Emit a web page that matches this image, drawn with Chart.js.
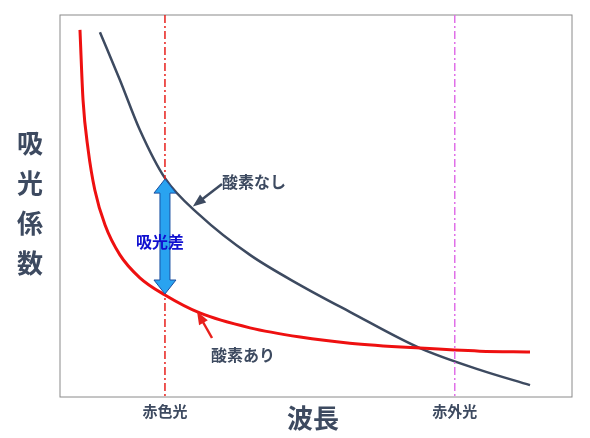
<!DOCTYPE html>
<html><head><meta charset="utf-8">
<script src="https://cdn.jsdelivr.net/npm/chart.js@4"></script>
<style>html,body{margin:0;padding:0;background:#fff}#w{width:590px;height:438px}</style>
</head><body><div id="w"><canvas id="c"></canvas></div>
<script>
const redX=[3.9,4.5,5.5,6.8,8.8,11.7,15.6,20.5,27.3,37.1,46.9,56.6,70.3,82,91.8];
const redY=[96.1,77.7,64.7,54.2,45,37.2,31.2,26.7,22,18.1,15.7,14.1,12.8,12,11.8];
const blueX=[7.8,11.7,15.6,20.5,27.3,37.1,46.9,56.6,70.3,82,91.8];
const blueY=[95.5,83,69.9,57.3,47.6,37.2,29.3,22.3,12.8,7.1,3.1];
const tickPos=[20.5,77.1];
const tickLabels=['赤色光','赤外光'];
const F='"Noto Sans CJK JP"';
const deco={id:'deco',afterDatasetsDraw(ch){
 const {ctx,chartArea:a,scales:{x,y}}=ch;
 ctx.save();
 ctx.strokeStyle='#8a8a8a';ctx.lineWidth=1;ctx.strokeRect(a.left,a.top,a.right-a.left,a.bottom-a.top);
 // vertical lines
 ctx.setLineDash([8,3,2,3]);ctx.lineWidth=1.5;
 ctx.strokeStyle='#e8201c';let px=x.getPixelForValue(tickPos[0]);ctx.beginPath();ctx.moveTo(px,a.top);ctx.lineTo(px,a.bottom);ctx.stroke();
 ctx.strokeStyle='#e070e8';let px2=x.getPixelForValue(tickPos[1]);ctx.beginPath();ctx.moveTo(px2,a.top);ctx.lineTo(px2,a.bottom);ctx.stroke();
 ctx.setLineDash([]);
 // double arrow
 const y1=y.getPixelForValue(57.3)+1,y2=y.getPixelForValue(26.7)-1;
 ctx.fillStyle='#29a3f0';ctx.strokeStyle='#1a4fa0';ctx.lineWidth=1;
 ctx.beginPath();
 ctx.moveTo(px,y1);ctx.lineTo(px+11,y1+14);ctx.lineTo(px+5,y1+14);ctx.lineTo(px+5,y2-14);ctx.lineTo(px+11,y2-14);
 ctx.lineTo(px,y2);ctx.lineTo(px-11,y2-14);ctx.lineTo(px-5,y2-14);ctx.lineTo(px-5,y1+14);ctx.lineTo(px-11,y1+14);ctx.closePath();
 ctx.fill();ctx.stroke();
 // pointer arrows
 function arr(x0,y0,x1,y1,c){ctx.strokeStyle=c;ctx.fillStyle=c;ctx.lineWidth=2.5;ctx.beginPath();ctx.moveTo(x0,y0);ctx.lineTo(x1,y1);ctx.stroke();
  const an=Math.atan2(y1-y0,x1-x0);ctx.beginPath();ctx.moveTo(x1+4*Math.cos(an),y1+4*Math.sin(an));
  ctx.lineTo(x1-9*Math.cos(an)+5*Math.sin(an),y1-9*Math.sin(an)-5*Math.cos(an));
  ctx.lineTo(x1-9*Math.cos(an)-5*Math.sin(an),y1-9*Math.sin(an)+5*Math.cos(an));ctx.closePath();ctx.fill();}
 arr(222,184,196,204,'#3d4a60');
 arr(212,338,199,315,'#e8201c');
 ctx.textBaseline='middle';ctx.textAlign='center';
 ctx.fillStyle='#3d4a60';ctx.font='bold 16px '+F;ctx.fillText('酸素なし',254,182);
 ctx.fillText('酸素あり',243,355);
 ctx.fillStyle='#1010d0';ctx.fillText('吸光差',160,242);
 ctx.fillStyle='#3d4a60';ctx.font='bold 15px '+F;
 tickLabels.forEach((t,i)=>ctx.fillText(t,x.getPixelForValue(tickPos[i]),411));
 ctx.font='bold 26px '+F;ctx.fillText('波長',313,418);
 ['吸','光','係','数'].forEach((t,i)=>ctx.fillText(t,30,143+i*40));
 ctx.restore();}};
new Chart(document.getElementById('c'),{type:'scatter',
 data:{datasets:[
  {data:redX.map((v,i)=>({x:v,y:redY[i]})),showLine:true,borderColor:'#ee1010',borderWidth:3,pointRadius:0,cubicInterpolationMode:'monotone'},
  {data:blueX.map((v,i)=>({x:v,y:blueY[i]})),showLine:true,borderColor:'#3d4a60',borderWidth:2.5,pointRadius:0,cubicInterpolationMode:'monotone'}]},
 options:{responsive:true,maintainAspectRatio:false,animation:false,
  layout:{padding:{left:60,right:18,top:15,bottom:41}},
  plugins:{legend:{display:false},tooltip:{enabled:false}},
  scales:{x:{type:'linear',min:0,max:100,display:false},y:{min:0,max:100,display:false}}},
 plugins:[deco]});
</script></body></html>
